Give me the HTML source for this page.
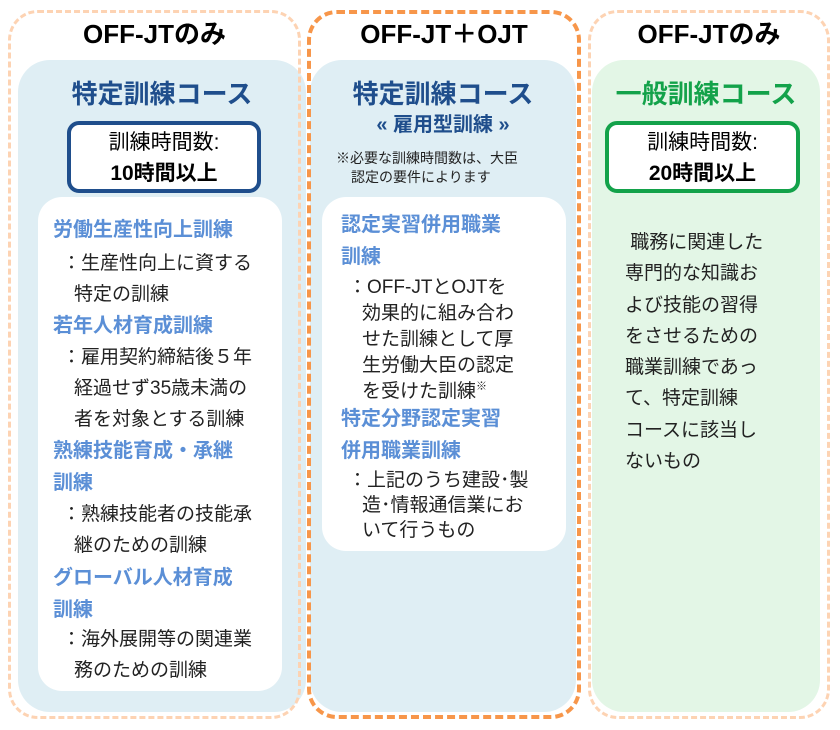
<!DOCTYPE html>
<html><head><meta charset="utf-8"><style>
body{margin:0;width:840px;height:730px;background:#fff;position:relative;overflow:hidden;font-family:"Liberation Sans","Noto Sans CJK JP",sans-serif;}
.a{position:absolute;box-sizing:border-box;}
.t{position:absolute;white-space:nowrap;}
.h{font-weight:bold;font-size:26px;color:#000;text-align:center;}
.c{font-weight:bold;font-size:26px;color:#1f4e8c;text-align:center;}
.s{font-weight:bold;font-size:20px;color:#5b8fd6;}
.b{font-size:19px;color:#222;}
</style></head><body>
<div class="a" style="left:18px;top:60px;width:288px;height:652px;background:#dfeef4;border-radius:32px;"></div>
<div class="a" style="left:310px;top:60px;width:266px;height:652px;background:#dfeef4;border-radius:32px;"></div>
<div class="a" style="left:592px;top:60px;width:228px;height:652px;background:#e3f6e6;border-radius:32px;"></div>

<div class="a" style="left:8px;top:10px;width:293px;height:709px;border:3px dashed #fdd3b3;border-radius:30px;"></div>
<div class="a" style="left:588px;top:10px;width:242px;height:709px;border:3px dashed #fdd3b3;border-radius:30px;"></div>
<div class="a" style="left:307px;top:10px;width:274px;height:709px;border:4px dashed #f7964a;border-radius:30px;"></div>

<div class="t h" style="left:8px;width:293px;top:14px;">OFF-JTのみ</div>
<div class="t h" style="left:307px;width:274px;top:14px;">OFF-JT＋OJT</div>
<div class="t h" style="left:588px;width:242px;top:14px;">OFF-JTのみ</div>

<div class="t c" style="left:18px;width:288px;top:74px;">特定訓練コース</div>
<div class="a" style="left:67px;top:121px;width:194px;height:72px;background:#fff;border:4px solid #1f4e8c;border-radius:12px;"></div>
<div class="t" style="left:67px;width:194px;top:126px;text-align:center;font-size:21px;">訓練時間数:</div>
<div class="t" style="left:67px;width:194px;top:157px;text-align:center;font-size:21px;font-weight:bold;">10時間以上</div>
<div class="a" style="left:38px;top:197px;width:244px;height:494px;background:#fff;border-radius:24px;"></div>
<div class="t s" style="left:53px;top:213px;">労働生産性向上訓練</div>
<div class="t b" style="left:62px;top:248px;">：生産性向上に資する</div>
<div class="t b" style="left:74px;top:279px;">特定の訓練</div>
<div class="t s" style="left:53px;top:309px;">若年人材育成訓練</div>
<div class="t b" style="left:62px;top:342px;">：雇用契約締結後５年</div>
<div class="t b" style="left:74px;top:373px;">経過せず35歳未満の</div>
<div class="t b" style="left:74px;top:404px;">者を対象とする訓練</div>
<div class="t s" style="left:53px;top:434px;">熟練技能育成・承継</div>
<div class="t s" style="left:53px;top:466px;">訓練</div>
<div class="t b" style="left:62px;top:499px;">：熟練技能者の技能承</div>
<div class="t b" style="left:74px;top:530px;">継のための訓練</div>
<div class="t s" style="left:53px;top:561px;">グローバル人材育成</div>
<div class="t s" style="left:53px;top:593px;">訓練</div>
<div class="t b" style="left:62px;top:624px;">：海外展開等の関連業</div>
<div class="t b" style="left:74px;top:655px;">務のための訓練</div>

<div class="t c" style="left:310px;width:266px;top:74px;">特定訓練コース</div>
<div class="t" style="left:310px;width:266px;top:108px;text-align:center;font-weight:bold;font-size:20px;color:#1f4e8c;">« 雇用型訓練 »</div>
<div class="t" style="left:336px;top:148px;font-size:14px;color:#222;">※必要な訓練時間数は、大臣</div>
<div class="t" style="left:351px;top:167px;font-size:14px;color:#222;">認定の要件によります</div>
<div class="a" style="left:322px;top:197px;width:244px;height:354px;background:#fff;border-radius:24px;"></div>
<div class="t s" style="left:341px;top:208px;">認定実習併用職業</div>
<div class="t s" style="left:341px;top:240px;">訓練</div>
<div class="t b" style="left:348px;top:272px;">：OFF-JTとOJTを</div>
<div class="t b" style="left:362px;top:298px;">効果的に組み合わ</div>
<div class="t b" style="left:362px;top:324px;">せた訓練として厚</div>
<div class="t b" style="left:362px;top:350px;">生労働大臣の認定</div>
<div class="t b" style="left:362px;top:376px;">を受けた訓練<sup style="font-size:11px">※</sup></div>
<div class="t s" style="left:341px;top:402px;">特定分野認定実習</div>
<div class="t s" style="left:341px;top:434px;">併用職業訓練</div>
<div class="t b" style="left:348px;top:465px;">：上記のうち建設･製</div>
<div class="t b" style="left:362px;top:490px;">造･情報通信業にお</div>
<div class="t b" style="left:362px;top:515px;">いて行うもの</div>

<div class="t" style="left:592px;width:228px;top:74px;text-align:center;font-weight:bold;font-size:26px;color:#13a24a;">一般訓練コース</div>
<div class="a" style="left:605px;top:121px;width:195px;height:72px;background:#fff;border:4px solid #13a24a;border-radius:12px;"></div>
<div class="t" style="left:605px;width:195px;top:126px;text-align:center;font-size:21px;">訓練時間数:</div>
<div class="t" style="left:605px;width:195px;top:157px;text-align:center;font-size:21px;font-weight:bold;">20時間以上</div>
<div class="t b" style="left:625px;top:227px;line-height:31.3px;white-space:normal;width:180px;">&nbsp;職務に関連した<br>専門的な知識お<br>よび技能の習得<br>をさせるための<br>職業訓練であっ<br>て、特定訓練<br>コースに該当し<br>ないもの</div>
</body></html>
